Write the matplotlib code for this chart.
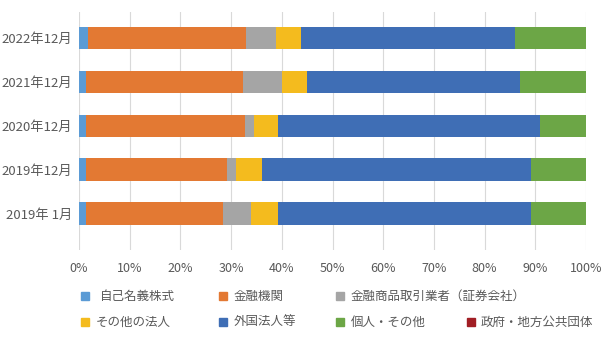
import matplotlib
matplotlib.use("Agg")
from matplotlib import pyplot as plt
from matplotlib.patches import Rectangle
import numpy as np

plt.rcParams['font.family'] = ['Noto Sans CJK JP', 'DejaVu Sans']

# データ（%）
periods = ['2019年 1月', '2019年12月', '2020年12月', '2021年12月', '2022年12月']
own_shares = [1.4, 1.4, 1.4, 1.4, 1.7]
banks = [27.1, 27.7, 31.4, 30.9, 31.2]
brokers = [5.4, 1.8, 1.8, 7.7, 6.0]
other_corps = [5.4, 5.2, 4.7, 4.9, 4.8]
foreign = [49.9, 53.1, 51.7, 42.0, 42.3]
individuals = [10.8, 10.8, 9.0, 13.1, 14.0]
government = [0.0, 0.0, 0.0, 0.0, 0.0]

labels = ['自己名義株式', '金融機関', '金融商品取引業者（証券会社）',
          'その他の法人', '外国法人等', '個人・その他', '政府・地方公共団体']
series = [own_shares, banks, brokers, other_corps, foreign, individuals, government]
colors = ['#5B9BD5', '#E37933', '#A5A5A5', '#F4BB1E', '#3F6EB5', '#6CA646', '#A11E24']

text_color = '#595959'

fig = plt.figure(figsize=(6.16, 3.41), dpi=100)
ax = fig.add_axes([79/616, 1-250/341, (586-79)/616, (250-12)/341])

y = np.arange(len(periods))
left = np.zeros(len(periods))
for vals, c in zip(series, colors):
    ax.barh(y, vals, left=left, height=0.52, color=c, zorder=3)
    left += np.array(vals)

ax.set_xlim(0, 100)
ax.set_ylim(-0.82, 4.59)
ax.set_xticks(range(0, 101, 10))
ax.set_xticklabels([f'{v}%' for v in range(0, 101, 10)])
ax.set_yticks(y)
ax.set_yticklabels(periods)
ax.tick_params(axis='x', length=0, pad=9, labelsize=9, colors=text_color)
ax.tick_params(axis='y', length=0, pad=5, labelsize=9.5, colors=text_color)
ax.grid(axis='x', color='#D9D9D9', linewidth=0.8, zorder=0)
for s in ax.spines.values():
    s.set_visible(False)

# 凡例（手動配置）
marker_x = [81, 219, 336, 81, 219, 336, 467]
text_x = [100, 234, 351, 96, 234, 351, 481]
row_y = [296, 296, 296, 322, 322, 322, 322]
for lab, c, mx, tx, ry in zip(labels, colors, marker_x, text_x, row_y):
    fig.patches.append(Rectangle((mx/616, 1-(ry+4)/341), 8/616, 8/341,
                                 transform=fig.transFigure, color=c, figure=fig))
    fig.text(tx/616, 1-ry/341, lab, fontsize=9, color=text_color, va='center', ha='left')

fig.savefig('out.png', dpi=100)
